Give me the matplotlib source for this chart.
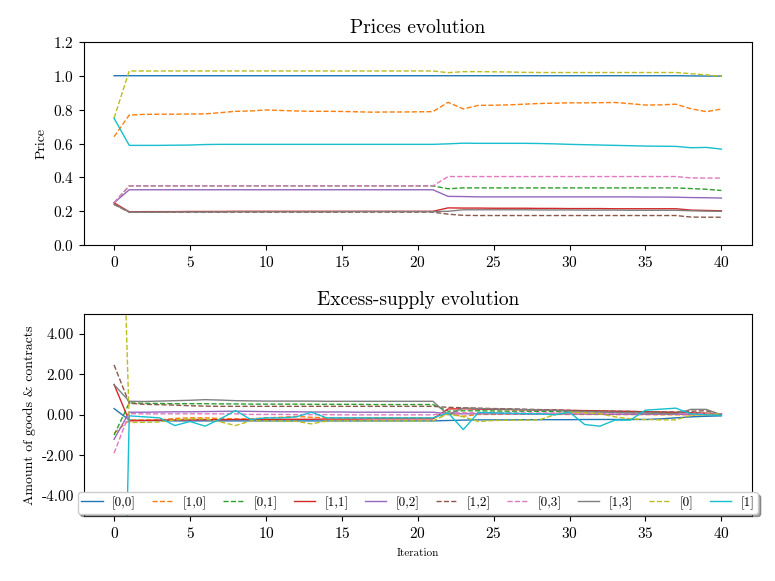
import matplotlib
matplotlib.use("Agg")
import matplotlib.pyplot as plt
from matplotlib.ticker import FormatStrFormatter

plt.rcParams['font.family'] = 'serif'
plt.rcParams['font.serif'] = ['cmr10']
plt.rcParams['mathtext.fontset'] = 'cm'
plt.rcParams['axes.formatter.use_mathtext'] = True
plt.rcParams['axes.unicode_minus'] = False

iterations = list(range(41))
labels = ["[0,0]", "[1,0]", "[0,1]", "[1,1]", "[0,2]", "[1,2]", "[0,3]", "[1,3]", "[0]", "[1]"]
styles = ["-", "--", "--", "-", "-", "--", "--", "-", "--", "-"]

## prices, one list per good / contract
price_00 = [1.000, 1.000, 1.000, 1.000, 1.000, 1.000, 1.000, 1.000, 1.000, 1.000, 1.000,
            1.000, 1.000, 1.000, 1.000, 1.000, 1.000, 1.000, 1.000, 1.000, 1.000,
            1.000, 1.000, 1.000, 1.000, 1.000, 1.000, 1.000, 1.000, 1.000, 1.000,
            1.000, 1.000, 1.000, 1.000, 1.000, 1.000, 1.000, 0.999, 0.998, 0.998]
price_10 = [0.640, 0.768, 0.772, 0.773, 0.773, 0.774, 0.775, 0.782, 0.790, 0.792, 0.798,
            0.795, 0.792, 0.790, 0.790, 0.789, 0.787, 0.785, 0.786, 0.786, 0.787,
            0.788, 0.843, 0.804, 0.825, 0.826, 0.828, 0.832, 0.836, 0.838, 0.840,
            0.840, 0.841, 0.842, 0.835, 0.827, 0.828, 0.832, 0.805, 0.788, 0.803]
price_01 = [0.250, 0.350, 0.350, 0.350, 0.350, 0.350, 0.350, 0.350, 0.350, 0.350, 0.350,
            0.350, 0.350, 0.350, 0.350, 0.350, 0.350, 0.350, 0.350, 0.350, 0.350,
            0.350, 0.333, 0.338, 0.338, 0.338, 0.338, 0.338, 0.338, 0.338, 0.338,
            0.338, 0.338, 0.338, 0.338, 0.338, 0.338, 0.338, 0.334, 0.330, 0.323]
price_11 = [0.250, 0.197, 0.198, 0.198, 0.198, 0.199, 0.199, 0.199, 0.200, 0.200, 0.200,
            0.200, 0.200, 0.200, 0.200, 0.200, 0.200, 0.200, 0.200, 0.200, 0.200,
            0.200, 0.220, 0.219, 0.219, 0.218, 0.218, 0.218, 0.217, 0.217, 0.216,
            0.216, 0.216, 0.215, 0.215, 0.215, 0.215, 0.215, 0.207, 0.205, 0.203]
price_02 = [0.250, 0.327, 0.327, 0.327, 0.327, 0.327, 0.327, 0.327, 0.327, 0.327, 0.327,
            0.327, 0.327, 0.327, 0.327, 0.327, 0.327, 0.327, 0.327, 0.327, 0.327,
            0.327, 0.288, 0.287, 0.285, 0.285, 0.285, 0.285, 0.285, 0.285, 0.285,
            0.285, 0.285, 0.285, 0.285, 0.284, 0.284, 0.283, 0.281, 0.280, 0.278]
price_12 = [0.240, 0.195, 0.195, 0.195, 0.195, 0.195, 0.195, 0.195, 0.195, 0.195, 0.195,
            0.195, 0.195, 0.195, 0.195, 0.195, 0.195, 0.195, 0.195, 0.195, 0.195,
            0.195, 0.183, 0.176, 0.175, 0.175, 0.175, 0.175, 0.175, 0.175, 0.175,
            0.175, 0.175, 0.175, 0.175, 0.175, 0.175, 0.175, 0.166, 0.165, 0.165]
price_03 = [0.250, 0.350, 0.350, 0.350, 0.350, 0.350, 0.350, 0.350, 0.350, 0.350, 0.350,
            0.350, 0.350, 0.350, 0.350, 0.350, 0.350, 0.350, 0.350, 0.350, 0.350,
            0.350, 0.405, 0.405, 0.405, 0.405, 0.405, 0.405, 0.405, 0.405, 0.405,
            0.405, 0.405, 0.405, 0.405, 0.405, 0.405, 0.405, 0.397, 0.396, 0.396]
price_13 = [0.242, 0.195, 0.195, 0.195, 0.196, 0.196, 0.196, 0.196, 0.197, 0.197, 0.197,
            0.197, 0.197, 0.197, 0.197, 0.198, 0.198, 0.198, 0.198, 0.198, 0.198,
            0.198, 0.200, 0.209, 0.209, 0.209, 0.209, 0.209, 0.208, 0.208, 0.208,
            0.207, 0.207, 0.207, 0.206, 0.206, 0.206, 0.206, 0.203, 0.201, 0.200]
price_0 = [0.750, 1.028, 1.028, 1.028, 1.028, 1.028, 1.028, 1.028, 1.028, 1.028, 1.028,
           1.028, 1.028, 1.028, 1.028, 1.028, 1.028, 1.028, 1.028, 1.028, 1.028,
           1.028, 1.018, 1.024, 1.024, 1.023, 1.022, 1.020, 1.019, 1.019, 1.019,
           1.019, 1.019, 1.019, 1.019, 1.019, 1.019, 1.019, 1.012, 1.005, 0.996]
price_1 = [0.749, 0.589, 0.589, 0.589, 0.590, 0.591, 0.594, 0.595, 0.595, 0.595, 0.595,
           0.595, 0.595, 0.595, 0.595, 0.595, 0.595, 0.595, 0.595, 0.595, 0.595,
           0.595, 0.598, 0.602, 0.601, 0.601, 0.601, 0.601, 0.600, 0.598, 0.595,
           0.593, 0.591, 0.589, 0.587, 0.585, 0.584, 0.583, 0.575, 0.577, 0.567]

## excess supply
excess_00 = [0.31, -0.26, -0.28, -0.29, -0.30, -0.30, -0.30, -0.30, -0.30, -0.30, -0.30,
             -0.30, -0.30, -0.30, -0.30, -0.30, -0.30, -0.30, -0.30, -0.30, -0.30,
             -0.30, -0.28, -0.26, -0.25, -0.25, -0.25, -0.24, -0.24, -0.24, -0.24,
             -0.23, -0.23, -0.23, -0.23, -0.23, -0.20, -0.15, -0.10, -0.07, -0.05]
excess_10 = [-0.92, -0.26, -0.25, -0.25, -0.18, -0.15, -0.15, -0.18, -0.20, -0.20, -0.15,
             -0.12, -0.08, -0.12, -0.15, -0.15, -0.15, -0.15, -0.15, -0.15, -0.15,
             -0.15, 0.05, -0.07, 0.02, 0.02, 0.03, 0.03, 0.03, 0.02, 0.02,
             0.02, 0.02, 0.01, 0.01, 0.01, 0.00, 0.00, 0.00, 0.00, 0.00]
excess_01 = [-1.00, 0.59, 0.57, 0.56, 0.55, 0.55, 0.55, 0.54, 0.54, 0.53, 0.53,
             0.53, 0.53, 0.52, 0.52, 0.52, 0.52, 0.51, 0.51, 0.51, 0.51,
             0.51, 0.18, 0.20, 0.20, 0.19, 0.18, 0.18, 0.17, 0.16, 0.15,
             0.15, 0.14, 0.14, 0.13, 0.12, 0.12, 0.11, 0.09, 0.07, 0.05]
excess_11 = [1.50, -0.30, -0.28, -0.26, -0.25, -0.25, -0.24, -0.24, -0.23, -0.23, -0.23,
             -0.22, -0.22, -0.22, -0.21, -0.21, -0.21, -0.20, -0.20, -0.20, -0.20,
             -0.20, 0.29, 0.30, 0.28, 0.27, 0.26, 0.25, 0.24, 0.23, 0.22,
             0.21, 0.20, 0.18, 0.17, 0.15, 0.14, 0.12, 0.10, 0.08, 0.05]
excess_02 = [-1.21, 0.13, 0.13, 0.14, 0.15, 0.15, 0.16, 0.17, 0.18, 0.17, 0.16,
             0.15, 0.15, 0.14, 0.14, 0.14, 0.13, 0.13, 0.13, 0.13, 0.13,
             0.13, 0.05, 0.05, 0.05, 0.05, 0.05, 0.04, 0.04, 0.04, 0.04,
             0.04, 0.03, 0.03, 0.03, 0.03, 0.03, 0.03, 0.02, 0.02, 0.02]
excess_12 = [2.47, 0.57, 0.52, 0.50, 0.48, 0.45, 0.43, 0.42, 0.42, 0.42, 0.42,
             0.42, 0.42, 0.42, 0.42, 0.42, 0.42, 0.42, 0.42, 0.42, 0.42,
             0.42, 0.37, 0.35, 0.33, 0.31, 0.30, 0.28, 0.26, 0.25, 0.22,
             0.20, 0.19, 0.18, 0.17, 0.15, 0.15, 0.14, 0.18, 0.20, 0.00]
excess_03 = [-1.90, 0.06, 0.05, 0.05, 0.05, 0.05, 0.05, 0.05, 0.05, 0.02, 0.02,
             0.02, 0.01, 0.01, 0.01, 0.00, 0.00, 0.00, 0.00, 0.00, 0.00,
             0.00, 0.10, 0.10, 0.10, 0.10, 0.10, 0.09, 0.09, 0.09, 0.08,
             0.08, 0.08, 0.07, 0.07, 0.07, 0.06, 0.06, 0.06, 0.05, 0.05]
excess_13 = [1.49, 0.67, 0.66, 0.68, 0.70, 0.72, 0.75, 0.73, 0.70, 0.69, 0.68,
             0.68, 0.68, 0.68, 0.67, 0.67, 0.67, 0.67, 0.67, 0.67, 0.67,
             0.67, 0.00, 0.34, 0.31, 0.29, 0.28, 0.26, 0.24, 0.22, 0.18,
             0.16, 0.14, 0.12, 0.10, 0.09, 0.07, 0.05, 0.27, 0.27, 0.00]
excess_0 = [24.5, -0.38, -0.37, -0.35, -0.25, -0.20, -0.20, -0.35, -0.53, -0.30, -0.30,
            -0.30, -0.32, -0.45, -0.30, -0.30, -0.30, -0.30, -0.30, -0.30, -0.30,
            -0.30, 0.05, -0.10, -0.33, -0.28, -0.27, -0.26, -0.25, 0.00, 0.13,
            0.10, 0.05, -0.10, -0.20, -0.23, -0.25, -0.25, -0.02, 0.02, 0.05]
excess_1 = [-35.0, -0.05, -0.10, -0.15, -0.53, -0.33, -0.56, -0.20, 0.21, -0.23, -0.15,
            -0.15, -0.10, 0.13, -0.15, -0.15, -0.15, -0.15, -0.15, -0.15, -0.15,
            -0.15, 0.10, -0.73, 0.12, 0.10, 0.08, 0.06, 0.05, 0.00, 0.13,
            -0.48, -0.56, -0.26, -0.26, 0.23, 0.28, 0.33, 0.05, 0.00, -0.03]

prices = [price_00, price_10, price_01, price_11, price_02, price_12, price_03, price_13, price_0, price_1]
excess = [excess_00, excess_10, excess_01, excess_11, excess_02, excess_12, excess_03, excess_13, excess_0, excess_1]

fig = plt.figure(figsize=(7.75, 5.81), dpi=100)
ax1 = fig.add_axes([0.108, 0.578, 0.862, 0.350])
ax2 = fig.add_axes([0.108, 0.112, 0.862, 0.348])

for i in range(len(labels)):
    ax1.plot(iterations, prices[i], linestyle=styles[i], color="C%d" % i, lw=1.0, label=labels[i])
    ax2.plot(iterations, excess[i], linestyle=styles[i], color="C%d" % i, lw=1.0, label=labels[i])

ax1.set_title("Prices evolution", fontsize=14)
ax1.set_ylabel("Price", fontsize=10)
ax1.set_ylim(0, 1.2)
ax1.set_xticks([0, 5, 10, 15, 20, 25, 30, 35, 40])
ax1.tick_params(labelsize=11)

ax2.set_title("Excess-supply evolution", fontsize=14)
ax2.set_ylabel("Amount of goods & contracts", fontsize=10)
ax2.set_xlabel("Iteration", fontsize=8, labelpad=6)
ax2.set_ylim(-5, 5)
ax2.set_yticks([-4, -2, 0, 2, 4])
ax2.yaxis.set_major_formatter(FormatStrFormatter('%.2f'))
ax2.set_xticks([0, 5, 10, 15, 20, 25, 30, 35, 40])
ax2.tick_params(labelsize=11)
ax2.legend(loc="center", bbox_to_anchor=(0.5, 0.064), ncol=10, fontsize=9.5,
           shadow=True, fancybox=True, framealpha=1, handlelength=1.6,
           handletextpad=0.68, columnspacing=1.28, borderpad=0.3, borderaxespad=0)

fig.savefig("out.png", dpi=100)
